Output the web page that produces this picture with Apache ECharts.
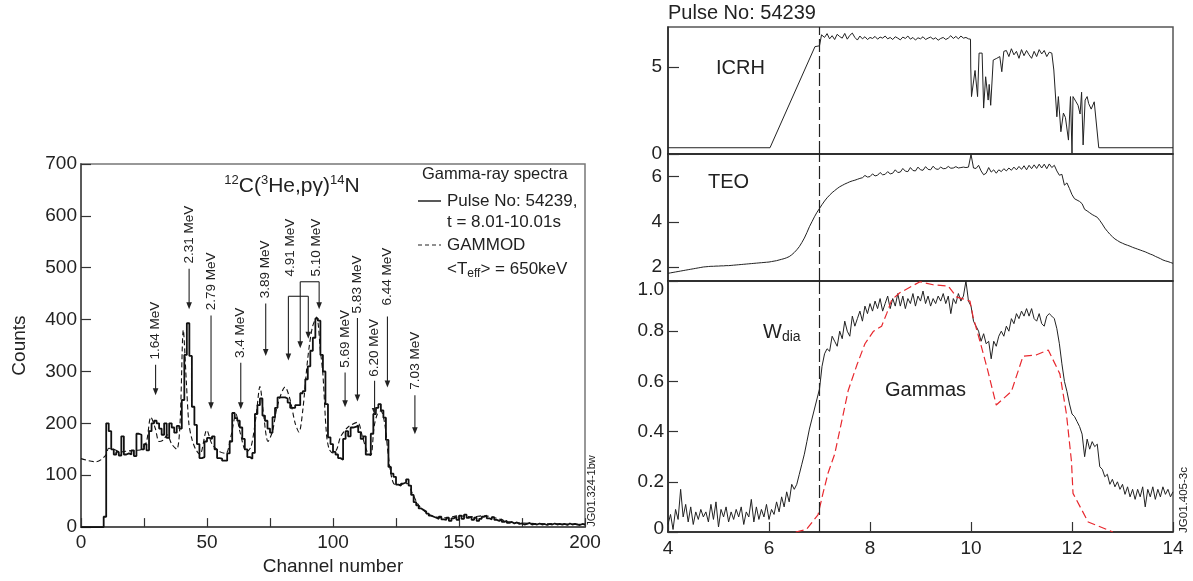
<!DOCTYPE html>
<html>
<head>
<meta charset="utf-8">
<script src="https://cdn.jsdelivr.net/npm/echarts@6/dist/echarts.min.js"></script>
<style>
html, body { margin: 0; padding: 0; background: #fff; }
#coolgraph { width: 1193px; height: 581px; }
</style>
</head>
<body>
<div id="coolgraph"></div>
<script>
// gamma-ray spectrum, counts per channel 0..200
var counts = [
  0, 0, 0, 0, 0, 0, 0, 0, 0, 20,
  200, 185, 150, 140, 145, 138, 175, 140, 142, 140,
  148, 137, 180, 178, 150, 160, 148, 185, 200, 205,
  200, 190, 178, 200, 172, 200, 192, 182, 195, 190,
  245, 332, 393, 330, 232, 197, 160, 133, 135, 165,
  172, 170, 175, 150, 133, 132, 128, 128, 142, 165,
  220, 210, 205, 192, 170, 150, 135, 132, 143, 218,
  235, 248, 215, 205, 190, 182, 212, 230, 250, 250,
  250, 248, 240, 230, 230, 235, 235, 258, 262, 285,
  310, 340, 365, 402, 398, 332, 300, 237, 173, 160,
  145, 140, 133, 130, 170, 185, 175, 192, 193, 196,
  183, 170, 175, 140, 140, 180, 218, 230, 237, 225,
  211, 168, 116, 103, 97, 82, 80, 84, 86, 92,
  80, 62, 48, 42, 36, 33, 30, 26, 22, 20,
  18, 16, 20, 15, 14, 18, 12, 17, 20, 14,
  22, 16, 24, 18, 20, 14, 18, 12, 16, 20,
  22, 17, 15, 19, 14, 12, 15, 10, 12, 8,
  10, 7, 9, 6, 7, 5, 6, 8, 5, 6,
  5, 7, 5, 6, 4, 6, 5, 7, 5, 6,
  5, 6, 4, 7, 5, 6, 5, 4, 6, 5,
  5
];

// GAMMOD model curve
var gammodCh = [0, 3, 6, 8, 10, 11, 13, 16, 19, 22, 24, 26, 27.7, 29.5, 31, 32.7, 34.2, 36, 38, 39.3,
  40.6, 41.8, 42.8, 44, 45.5, 47.2, 49.9, 52, 55.2, 57.5, 59.5, 61.5, 63, 65.7, 67.5, 69.5, 71, 72.5, 74.2, 76,
  78, 81, 83, 85, 86.5, 88, 90, 91.8, 93.5, 95, 96, 97.4, 98.5, 100, 101.5, 103, 106, 109.7, 111.7, 113.6,
  115, 116.3, 117.6, 119, 120.5, 122, 123.3, 124.6, 127, 129.5, 131.5, 134, 137, 140, 145, 150, 155, 160, 165, 170,
  180, 190, 200];
var gammodVal = [132, 128, 126, 130, 140, 152, 150, 145, 147, 148, 150, 165, 212, 190, 165, 168, 178, 160, 150, 200,
  380, 280, 200, 170, 150, 140, 187, 160, 145, 142, 175, 218, 185, 145, 155, 215, 271, 215, 165, 185,
  235, 270, 245, 200, 183, 225, 326, 385, 405, 340, 294, 180, 150, 143, 150, 174, 193, 202, 174, 145,
  138, 193, 218, 224, 200, 136, 95, 82, 82, 84, 65, 42, 28, 20, 18, 22, 20, 22, 17, 10,
  7, 6, 5];

// single peak markers
var peakLabels = ['1.64 MeV', '2.31 MeV', '2.79 MeV', '3.4 MeV', '3.89 MeV', '5.69 MeV', '5.83 MeV', '6.20 MeV', '6.44 MeV', '7.03 MeV'];
var peakCh = [29.6, 42.9, 51.6, 63.4, 73.3, 104.8, 109.7, 116.5, 121.6, 132.5];
var peakTip = [254, 420, 227, 227, 330, 231, 242, 216, 269, 179];
var peakLineTop = [313, 498, 408, 317, 431, 298, 403, 282, 406, 254];
var peakTextBase = [323, 508, 418, 326, 441, 307, 412, 290, 427, 265];

// double peak markers (brackets)
var pairLabels = ['4.91 MeV', '5.10 MeV'];
var pairTextCh = [82.9, 93.3];
var pairTextBase = [483, 483];
var pairChA = [82.3, 87.0];
var pairChB = [90.2, 94.5];
var pairBar = [445, 473];
var pairTipA = [321, 345];
var pairTipB = [363, 420];

// ICRH power, [time, MW]
var icrhPoints = [
  [4.0, 0.36], [6.02, 0.36], [6.91, 6.17], [7.0, 6.22], [7.04, 6.85],
  [7.10, 6.70], [7.15, 6.92], [7.20, 6.62], [7.25, 6.80], [7.30, 6.58], [7.35, 6.88], [7.40, 6.75], [7.45, 6.66],
  [7.50, 6.93], [7.55, 6.60], [7.60, 6.82], [7.65, 6.95], [7.70, 6.70], [7.75, 6.55], [7.80, 6.78], [7.85, 6.62],
  [7.90, 6.74], [7.95, 6.58], [8.00, 6.70], [8.05, 6.64], [8.10, 6.76], [8.15, 6.60], [8.20, 6.72], [8.25, 6.66],
  [8.30, 6.78], [8.35, 6.62], [8.40, 6.70], [8.45, 6.58], [8.50, 6.74], [8.55, 6.66], [8.60, 6.56], [8.65, 6.72],
  [8.70, 6.64], [8.75, 6.78], [8.80, 6.60], [8.85, 6.70], [8.90, 6.55], [8.95, 6.68], [9.00, 6.62], [9.05, 6.74],
  [9.10, 6.58], [9.15, 6.66], [9.20, 6.72], [9.25, 6.60], [9.30, 6.68], [9.35, 6.54], [9.40, 6.64], [9.45, 6.70],
  [9.50, 6.58], [9.55, 6.66], [9.60, 6.80], [9.65, 6.64], [9.70, 6.76], [9.75, 6.62], [9.80, 6.78], [9.85, 6.66],
  [9.90, 6.70], [9.95, 6.62],
  [9.99, 6.6], [9.995, 5.0], [10.01, 3.3], [10.08, 4.8], [10.13, 3.3], [10.16, 5.8], [10.22, 5.8], [10.25, 2.64],
  [10.29, 4.44], [10.34, 3.1], [10.36, 4.0], [10.39, 2.8], [10.44, 5.4], [10.51, 5.5], [10.57, 5.6], [10.61, 4.73],
  [10.65, 5.9], [10.70, 5.95], [10.75, 5.6], [10.80, 6.05], [10.85, 5.7], [10.90, 5.9], [10.95, 5.5], [11.00, 6.0],
  [11.05, 5.65], [11.10, 5.95], [11.15, 5.7], [11.20, 5.5], [11.25, 5.9], [11.30, 5.6], [11.35, 6.0], [11.40, 5.75],
  [11.45, 5.95], [11.50, 5.6], [11.55, 5.85], [11.60, 5.8],
  [11.64, 4.83], [11.70, 2.14], [11.73, 3.3], [11.78, 1.28], [11.83, 2.35], [11.87, 2.1], [11.93, 0.8], [11.97, 3.3],
  [12.0, 0.05], [12.02, 3.3], [12.08, 3.0], [12.12, 2.8], [12.16, 2.3], [12.19, 3.55], [12.22, 0.52], [12.26, 3.1],
  [12.30, 3.3], [12.33, 2.9], [12.38, 2.58], [12.44, 3.0], [12.53, 0.36], [14.0, 0.36]
];

// TEO and Wdia sampled every 0.05 s from 4 s to 14 s
var sampleStart = 4;
var sampleStep = 0.05;
var teoVal = [
  1.72, 1.74, 1.76, 1.78, 1.80, 1.82, 1.84, 1.86, 1.88, 1.90,
  1.92, 1.94, 1.96, 1.98, 2.00, 2.01, 2.02, 2.03, 2.03, 2.04,
  2.04, 2.05, 2.05, 2.06, 2.06, 2.07, 2.08, 2.09, 2.10, 2.11,
  2.12, 2.13, 2.14, 2.15, 2.16, 2.17, 2.18, 2.19, 2.20, 2.21,
  2.22, 2.24, 2.26, 2.28, 2.31, 2.34, 2.37, 2.41, 2.46, 2.54,
  2.64, 2.76, 2.90, 3.08, 3.28, 3.52, 3.78, 4.00, 4.22, 4.42,
  4.59, 4.76, 4.92, 5.06, 5.18, 5.29, 5.38, 5.47, 5.55, 5.61,
  5.67, 5.72, 5.77, 5.81, 5.84, 5.88, 5.92, 5.95, 6.05, 5.98,
  6.00, 6.12, 6.03, 6.06, 6.18, 6.08, 6.10, 6.22, 6.12, 6.15,
  6.30, 6.18, 6.20, 6.36, 6.24, 6.22, 6.40, 6.27, 6.25, 6.42,
  6.30, 6.28, 6.44, 6.32, 6.30, 6.46, 6.34, 6.32, 6.42, 6.35,
  6.36, 6.45, 6.37, 6.38, 6.44, 6.38, 6.40, 6.42, 6.40, 6.42,
  6.98, 6.38, 6.36, 6.50, 6.25, 6.08, 6.15, 6.40, 6.20, 6.30,
  6.15, 6.30, 6.22, 6.35, 6.25, 6.38, 6.28, 6.42, 6.30, 6.45,
  6.32, 6.48, 6.30, 6.50, 6.35, 6.52, 6.36, 6.55, 6.38, 6.55,
  6.35, 6.56, 6.40, 6.50, 6.25, 6.06, 6.10, 5.62, 5.72, 5.47,
  5.20, 5.02, 4.96, 4.90, 4.80, 4.55, 4.48, 4.40, 4.32, 4.26,
  4.20, 4.06, 3.90, 3.72, 3.58, 3.45, 3.34, 3.24, 3.17, 3.10,
  3.05, 3.00, 2.96, 2.92, 2.87, 2.83, 2.79, 2.75, 2.71, 2.67,
  2.62, 2.57, 2.53, 2.47, 2.42, 2.37, 2.31, 2.27, 2.24, 2.20,
  2.16
];
var wdiaVal = [
  0.03, 0.07, 0.01, 0.09, 0.05, 0.17, 0.06, 0.11, 0.04, 0.10,
  0.03, 0.08, 0.05, 0.09, 0.06, 0.08, 0.04, 0.11, 0.05, 0.12,
  0.02, 0.09, 0.06, 0.10, 0.04, 0.08, 0.05, 0.09, 0.06, 0.10,
  0.03, 0.08, 0.06, 0.13, 0.04, 0.10, 0.05, 0.09, 0.06, 0.11,
  0.05, 0.09, 0.07, 0.12, 0.08, 0.14, 0.10, 0.16, 0.12, 0.19,
  0.17, 0.19, 0.23, 0.27, 0.31, 0.36, 0.41, 0.45, 0.49, 0.53,
  0.57, 0.66, 0.71, 0.73, 0.72, 0.78, 0.76, 0.74, 0.80, 0.77,
  0.84, 0.80, 0.78, 0.86, 0.82, 0.85, 0.88, 0.84, 0.90, 0.87,
  0.91, 0.88, 0.92, 0.89, 0.93, 0.88, 0.91, 0.94, 0.89, 0.93,
  0.90, 0.95, 0.90, 0.94, 0.89, 0.93, 0.91, 0.95, 0.90, 0.94,
  0.92, 0.96, 0.91, 0.94, 0.90, 0.93, 0.91, 0.94, 0.92, 0.95,
  0.91, 0.94, 0.87, 0.93, 0.91, 0.95, 0.92, 0.94, 1.00, 0.92,
  0.90, 0.84, 0.82, 0.80, 0.76, 0.79, 0.75, 0.76, 0.69, 0.76,
  0.74, 0.78, 0.80, 0.78, 0.82, 0.80, 0.85, 0.83, 0.87, 0.85,
  0.88, 0.86, 0.89, 0.86, 0.89, 0.85, 0.84, 0.87, 0.83, 0.82,
  0.86, 0.87, 0.86, 0.85, 0.81, 0.75, 0.67, 0.60, 0.56, 0.51,
  0.47, 0.46, 0.44, 0.42, 0.39, 0.30, 0.37, 0.33, 0.36, 0.34,
  0.35, 0.26, 0.25, 0.22, 0.23, 0.19, 0.21, 0.18, 0.20, 0.17,
  0.19, 0.15, 0.18, 0.14, 0.17, 0.13, 0.17, 0.14, 0.18, 0.10,
  0.17, 0.14, 0.18, 0.13, 0.17, 0.14, 0.18, 0.15, 0.17, 0.14,
  0.16
];

// gamma emission (normalised), [time, value]
var gammaPoints = [
  [6.53, 0], [6.74, 0.01], [6.97, 0.068], [7.07, 0.155], [7.17, 0.235], [7.3, 0.31], [7.47, 0.47], [7.57, 0.565],
  [7.74, 0.665], [7.9, 0.75], [8.07, 0.8], [8.23, 0.82], [8.33, 0.87], [8.43, 0.925], [8.59, 0.953], [8.99, 0.997],
  [9.25, 0.985], [9.55, 0.98], [9.71, 0.937], [9.98, 0.92], [10.04, 0.858], [10.17, 0.765], [10.33, 0.645],
  [10.5, 0.506], [10.8, 0.56], [11.03, 0.7], [11.3, 0.706], [11.53, 0.725], [11.76, 0.63], [11.89, 0.47],
  [11.99, 0.28], [12.02, 0.154], [12.32, 0.04], [12.81, 0.0]
];

var FONT = '"Liberation Sans", Arial, Helvetica, sans-serif';
var INK = '#222';

var chartDom = document.getElementById('coolgraph');
var myChart = echarts.init(chartDom);
var option;

var histData = counts.map(function (c, i) { return [i, c]; });
var gammodData = gammodCh.map(function (c, i) { return [c, gammodVal[i]]; });
var teoData = teoVal.map(function (v, i) { return [sampleStart + i * sampleStep, v]; });
var wdiaData = wdiaVal.map(function (v, i) { return [sampleStart + i * sampleStep, v]; });
var peakData = peakCh.map(function (c, i) { return [c, peakTip[i], peakLineTop[i], peakTextBase[i]]; });
var pairData = pairChA.map(function (c, i) {
  return [c, pairChB[i], pairBar[i], pairTipA[i], pairTipB[i], pairTextCh[i], pairTextBase[i]];
});

function arrowParts(x, yTop, yTip) {
  return [
    { type: 'line', shape: { x1: x, y1: yTop, x2: x, y2: yTip - 5 }, style: { stroke: INK, lineWidth: 1.1 } },
    { type: 'polygon', shape: { points: [[x - 2.8, yTip - 7], [x + 2.8, yTip - 7], [x, yTip]] }, style: { fill: INK } }
  ];
}

function upText(x, y, txt) {
  return {
    type: 'text', x: x, y: y, rotation: Math.PI / 2,
    style: { text: txt, align: 'left', verticalAlign: 'middle', fontSize: 13.5, fontFamily: FONT, fill: INK }
  };
}

function renderPeak(params, api) {
  var tip = api.coord([api.value(0), api.value(1)]);
  var top = api.coord([api.value(0), api.value(2)]);
  var base = api.coord([api.value(0), api.value(3)]);
  var kids = arrowParts(tip[0], top[1], tip[1]);
  kids.push(upText(base[0], base[1], peakLabels[params.dataIndex]));
  return { type: 'group', children: kids };
}

function renderPair(params, api) {
  var a = api.coord([api.value(0), api.value(2)]);
  var b = api.coord([api.value(1), api.value(2)]);
  var tipA = api.coord([api.value(0), api.value(3)]);
  var tipB = api.coord([api.value(1), api.value(4)]);
  var base = api.coord([api.value(5), api.value(6)]);
  var kids = arrowParts(a[0], a[1], tipA[1]).concat(arrowParts(b[0], b[1], tipB[1]));
  kids.push({ type: 'line', shape: { x1: a[0], y1: a[1], x2: b[0], y2: b[1] }, style: { stroke: INK, lineWidth: 1.1 } });
  kids.push(upText(base[0], base[1], pairLabels[params.dataIndex]));
  return { type: 'group', children: kids };
}

function plainText(x, y, txt, size, align) {
  return {
    type: 'text', x: x, y: y, silent: true,
    style: {
      text: txt, fontSize: size, fontFamily: FONT, fill: INK, align: align || 'left', verticalAlign: 'middle',
      lineHeight: size + 4,
      rich: {
        sup: { fontSize: Math.round(size * 0.62), fontFamily: FONT, fill: INK, verticalAlign: 'top', lineHeight: 10 },
        sub: { fontSize: Math.round(size * 0.68), fontFamily: FONT, fill: INK, verticalAlign: 'bottom', lineHeight: 10 }
      }
    }
  };
}

var dashLine7 = {
  silent: true,
  symbol: ['none', 'none'],
  label: { show: false },
  lineStyle: { type: [13, 4], color: INK, width: 1.2 },
  data: [{ xAxis: 7 }]
};

var tickStyle = { color: '#333', width: 1.2 };
var labelBase = { fontSize: 19, color: INK, fontFamily: FONT };

option = {
  animation: false,
  textStyle: { fontFamily: FONT },
  grid: [
    { left: 81, top: 164, width: 504, height: 367, show: true, borderColor: '#777', borderWidth: 1.5 },
    { left: 668, top: 27, width: 505, height: 127, show: true, borderColor: '#555', borderWidth: 1.5 },
    { left: 668, top: 154, width: 505, height: 127, show: true, borderColor: '#555', borderWidth: 1.5 },
    { left: 668, top: 281, width: 505, height: 251, show: true, borderColor: '#555', borderWidth: 1.5 }
  ],
  xAxis: [
    {
      gridIndex: 0, type: 'value', min: 0, max: 200, interval: 25,
      name: 'Channel number', nameLocation: 'middle', nameGap: 26,
      nameTextStyle: { fontSize: 19, color: INK, fontFamily: FONT },
      axisLine: { lineStyle: { color: '#555', width: 1.8 } },
      axisTick: { inside: true, length: 9, lineStyle: tickStyle },
      axisLabel: Object.assign({ margin: 6, formatter: function (v) { return v % 50 === 0 ? String(v) : ''; } }, labelBase),
      splitLine: { show: false }
    },
    {
      gridIndex: 1, type: 'value', min: 4, max: 14, interval: 2,
      axisLine: { lineStyle: { color: INK, width: 1.5 } },
      axisTick: { show: false }, axisLabel: { show: false }, splitLine: { show: false }
    },
    {
      gridIndex: 2, type: 'value', min: 4, max: 14, interval: 2,
      axisLine: { lineStyle: { color: INK, width: 1.5 } },
      axisTick: { show: false }, axisLabel: { show: false }, splitLine: { show: false }
    },
    {
      gridIndex: 3, type: 'value', min: 4, max: 14, interval: 2,
      axisLine: { lineStyle: { color: INK, width: 1.5 } },
      axisTick: { inside: true, length: 10, lineStyle: tickStyle },
      axisLabel: Object.assign({ margin: 7 }, labelBase),
      splitLine: { show: false }
    }
  ],
  yAxis: [
    {
      gridIndex: 0, type: 'value', min: 0, max: 700, interval: 100,
      name: 'Counts', nameLocation: 'middle', nameGap: 52, nameRotate: 90,
      nameTextStyle: { fontSize: 19, color: INK, fontFamily: FONT },
      axisLine: { show: true, lineStyle: { color: '#555', width: 1.8 } },
      axisTick: { show: true, inside: true, length: 10, lineStyle: tickStyle },
      axisLabel: Object.assign({ margin: 4 }, labelBase),
      splitLine: { show: false }
    },
    {
      gridIndex: 1, type: 'value', min: 0, max: 7.3,
      axisLine: { show: true, lineStyle: { color: INK, width: 1.5 } },
      axisTick: { show: true, inside: true, length: 11, lineStyle: tickStyle, customValues: [0, 5] },
      axisLabel: Object.assign({ margin: 6, customValues: [0, 5] }, labelBase),
      splitLine: { show: false }
    },
    {
      gridIndex: 2, type: 'value', min: 1.38, max: 7.0,
      axisLine: { show: true, lineStyle: { color: INK, width: 1.5 } },
      axisTick: { show: true, inside: true, length: 11, lineStyle: tickStyle, customValues: [2, 4, 6] },
      axisLabel: Object.assign({ margin: 6, customValues: [2, 4, 6] }, labelBase),
      splitLine: { show: false }
    },
    {
      gridIndex: 3, type: 'value', min: 0, max: 1, interval: 0.2,
      axisLine: { show: true, lineStyle: { color: INK, width: 1.5 } },
      axisTick: { show: true, inside: true, length: 10, lineStyle: tickStyle },
      axisLabel: Object.assign({
        margin: 4,
        formatter: function (v) {
          if (v === 0) return '{bot|0}';
          if (v >= 0.999) return '{top|1.0}';
          return v.toFixed(1);
        },
        rich: {
          top: { fontSize: 19, color: INK, fontFamily: FONT, padding: [18, 0, 0, 0] },
          bot: { fontSize: 19, color: INK, fontFamily: FONT, padding: [0, 0, 6, 0] }
        }
      }, labelBase),
      splitLine: { show: false }
    }
  ],
  series: [
    {
      name: 'Pulse No: 54239', type: 'line', xAxisIndex: 0, yAxisIndex: 0, step: 'end',
      data: histData, showSymbol: false, symbol: 'none',
      lineStyle: { color: '#111', width: 1.8 }, z: 3
    },
    {
      name: 'GAMMOD', type: 'line', xAxisIndex: 0, yAxisIndex: 0, smooth: 0.3,
      data: gammodData, showSymbol: false, symbol: 'none',
      lineStyle: { color: '#111', width: 1.1, type: [5, 3] }, z: 2
    },
    { type: 'custom', xAxisIndex: 0, yAxisIndex: 0, renderItem: renderPeak, data: peakData, silent: true, z: 4 },
    { type: 'custom', xAxisIndex: 0, yAxisIndex: 0, renderItem: renderPair, data: pairData, silent: true, z: 4 },
    {
      name: 'ICRH', type: 'line', xAxisIndex: 1, yAxisIndex: 1, data: icrhPoints,
      showSymbol: false, symbol: 'none', lineStyle: { color: INK, width: 1 }, markLine: dashLine7
    },
    {
      name: 'TEO', type: 'line', xAxisIndex: 2, yAxisIndex: 2, data: teoData,
      showSymbol: false, symbol: 'none', lineStyle: { color: INK, width: 1 }, markLine: dashLine7
    },
    {
      name: 'Wdia', type: 'line', xAxisIndex: 3, yAxisIndex: 3, data: wdiaData,
      showSymbol: false, symbol: 'none', lineStyle: { color: INK, width: 1 }, markLine: dashLine7
    },
    {
      name: 'Gammas', type: 'line', xAxisIndex: 3, yAxisIndex: 3, data: gammaPoints,
      showSymbol: false, symbol: 'none', lineStyle: { color: '#e8282e', width: 1.2, type: [8, 4] }
    }
  ],
  graphic: [
    plainText(292, 186, '{sup|12}C({sup|3}He,pγ){sup|14}N', 21, 'center'),
    plainText(422, 174, 'Gamma-ray spectra', 16.5),
    { type: 'line', silent: true, shape: { x1: 418, y1: 201, x2: 441, y2: 201 }, style: { stroke: INK, lineWidth: 1.5 } },
    plainText(447, 201, 'Pulse No: 54239,', 17),
    plainText(447, 222, 't = 8.01-10.01s', 17),
    { type: 'line', silent: true, shape: { x1: 418, y1: 245, x2: 441, y2: 245 }, style: { stroke: INK, lineWidth: 1.2, lineDash: [4, 3] } },
    plainText(447, 245, 'GAMMOD', 17),
    plainText(447, 269, '<T{sub|eff}> = 650keV', 17),
    plainText(668, 13, 'Pulse No: 54239', 20),
    plainText(716, 68, 'ICRH', 20),
    plainText(708, 182, 'TEO', 20),
    plainText(763, 332, 'W{sub|dia}', 20),
    plainText(885, 390, 'Gammas', 20),
    {
      type: 'text', x: 592, y: 491, rotation: Math.PI / 2, silent: true,
      style: { text: 'JG01.324-1bw', align: 'center', verticalAlign: 'middle', fontSize: 11, fontFamily: FONT, fill: INK }
    },
    {
      type: 'text', x: 1184, y: 500, rotation: Math.PI / 2, silent: true,
      style: { text: 'JG01.405-3c', align: 'center', verticalAlign: 'middle', fontSize: 11.5, fontFamily: FONT, fill: INK }
    }
  ]
};

option && myChart.setOption(option);
</script>
</body>
</html>
